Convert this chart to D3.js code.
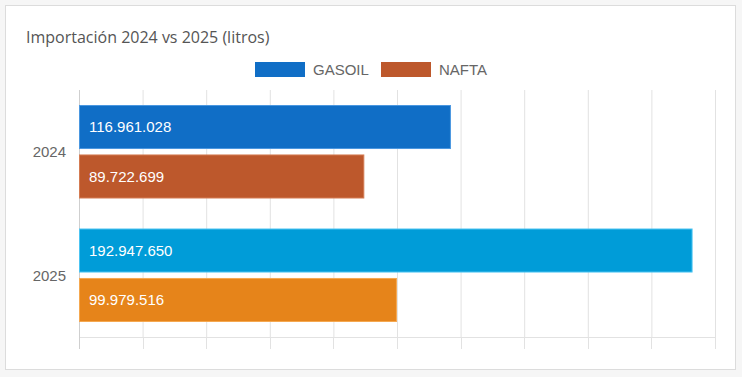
<!DOCTYPE html>
<html>
<head>
<meta charset="utf-8">
<script src="https://cdn.jsdelivr.net/npm/d3@7"></script>
<style>
  html, body { margin: 0; padding: 0; background: #f6f6f6; }
  svg { display: block; }
</style>
</head>
<body>
<script>
// Data.
const years = ['2024', '2025'];
const series = ['GASOIL', 'NAFTA'];
const gasoilValues = [116961028, 192947650];
const naftaValues = [89722699, 99979516];
const xTicks = [0, 20e6, 40e6, 60e6, 80e6, 100e6, 120e6, 140e6, 160e6, 180e6, 200e6];

// Colours per year / series.
const fillColors = {
  GASOIL: ['#106ec6', '#009cd8'],
  NAFTA: ['#bd582c', '#e6841a']
};
const strokeColors = {
  GASOIL: ['#4a97e0', '#4cc4f2'],
  NAFTA: ['#d47b52', '#f5a850']
};

const size = {width: 742, height: 377};
const plot = {left: 79, right: 715, top: 90, bottom: 337};

const svg = d3.select('body')
  .append('svg')
  .attr('width', size.width)
  .attr('height', size.height);

// Card.
svg.append('rect')
  .attr('x', 5.5).attr('y', 5.5)
  .attr('width', 730).attr('height', 364)
  .style('fill', '#ffffff')
  .style('stroke', '#dcdcdc');

// Title.
svg.append('text')
  .attr('x', 26).attr('y', 43)
  .style('font-family', '"Open Sans", sans-serif')
  .style('font-size', '16px')
  .style('fill', '#555')
  .text('Importación 2024 vs 2025 (litros)');

// Scales.
const x = d3.scaleLinear()
  .domain([0, 200e6])
  .range([plot.left, plot.right]);

const y = d3.scaleBand()
  .domain(years)
  .range([plot.top, plot.bottom])
  .paddingInner(0)
  .paddingOuter(0);

const inner = d3.scaleBand()
  .domain(series)
  .range([15, y.bandwidth() - 15])
  .paddingInner(0.11);

// Grid.
const xAxis = d3.axisBottom(x)
  .tickValues(xTicks)
  .tickSize(-(plot.bottom - plot.top))
  .tickFormat('');

const gx = svg.append('g')
  .attr('transform', 'translate(0,' + plot.bottom + ')')
  .call(xAxis);
gx.select('.domain').remove();
gx.selectAll('line').style('stroke', '#e2e2e2');

svg.append('g')
  .selectAll('line')
  .data(xTicks)
  .enter()
  .append('line')
  .attr('x1', (d) => Math.round(x(d)) + 0.5)
  .attr('x2', (d) => Math.round(x(d)) + 0.5)
  .attr('y1', plot.bottom)
  .attr('y2', plot.bottom + 12)
  .style('stroke', '#e2e2e2');

svg.append('line')
  .attr('x1', plot.left).attr('x2', plot.right)
  .attr('y1', plot.bottom + 0.5).attr('y2', plot.bottom + 0.5)
  .style('stroke', '#e2e2e2');

svg.append('line')
  .attr('x1', plot.left + 0.5).attr('x2', plot.left + 0.5)
  .attr('y1', plot.top).attr('y2', plot.bottom + 12)
  .style('stroke', '#cfcfcf');

// Bars.
const rows = [];
years.forEach((yr, i) =>
{
  rows.push({year: yr, serie: 'GASOIL', value: gasoilValues[i], idx: i});
  rows.push({year: yr, serie: 'NAFTA', value: naftaValues[i], idx: i});
});

const fmt = (v) => d3.format(',')(v).replace(/,/g, '.');

const bars = svg.append('g')
  .selectAll('g')
  .data(rows)
  .enter()
  .append('g')
  .attr('transform', (d) => 'translate(0,' + (y(d.year) + inner(d.serie)) + ')');

bars.append('rect')
  .attr('x', x(0) + 0.5)
  .attr('y', 0.5)
  .attr('width', (d) => x(d.value) - x(0) - 1)
  .attr('height', inner.bandwidth() - 1)
  .style('fill', (d) => fillColors[d.serie][d.idx])
  .style('stroke', (d) => strokeColors[d.serie][d.idx]);

bars.append('text')
  .attr('x', x(0) + 10)
  .attr('y', inner.bandwidth() / 2)
  .attr('dy', '0.35em')
  .style('font-family', '"Liberation Sans", Arial, sans-serif')
  .style('font-size', '15px')
  .style('fill', '#ffffff')
  .text((d) => fmt(d.value));

// Category labels.
svg.append('g')
  .selectAll('text')
  .data(years)
  .enter()
  .append('text')
  .attr('x', 66)
  .attr('y', (d) => y(d) + y.bandwidth() / 2)
  .attr('dy', '0.35em')
  .attr('text-anchor', 'end')
  .style('font-family', '"Liberation Sans", Arial, sans-serif')
  .style('font-size', '15px')
  .style('fill', '#666')
  .text((d) => d);

// Legend.
const legendX = [255, 381];
const legend = svg.append('g')
  .selectAll('g')
  .data(series)
  .enter()
  .append('g')
  .attr('transform', (d, i) => 'translate(' + legendX[i] + ',62)');

legend.append('rect')
  .attr('width', 50).attr('height', 15)
  .style('fill', (d) => fillColors[d][0]);

legend.append('text')
  .attr('x', 58).attr('y', 8)
  .attr('dy', '0.35em')
  .style('font-family', '"Liberation Sans", Arial, sans-serif')
  .style('font-size', '15px')
  .style('fill', '#666')
  .text((d) => d);
</script>
</body>
</html>
